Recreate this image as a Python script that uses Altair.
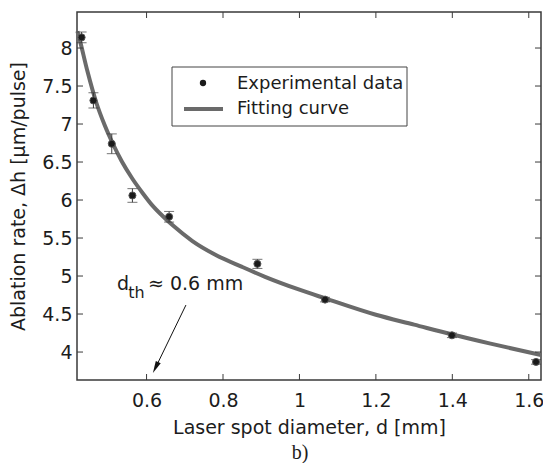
import altair as alt
import pandas as pd

# ---- data ----
d_exp = [0.430, 0.461, 0.509, 0.563, 0.659, 0.890, 1.067, 1.399, 1.619]
rate_exp = [8.14, 7.31, 6.74, 6.06, 5.78, 5.16, 4.69, 4.22, 3.87]
err_exp = [0.07, 0.10, 0.13, 0.09, 0.07, 0.06, 0.03, 0.03, 0.03]

d_fit = [0.419, 0.424, 0.445, 0.468, 0.49, 0.511, 0.535, 0.563, 0.59, 0.615,
         0.64, 0.67, 0.72, 0.78, 0.85, 0.91, 1.0, 1.065, 1.2, 1.3, 1.4, 1.5, 1.632]
rate_fit = [8.22, 8.13, 7.70, 7.29, 6.99, 6.75, 6.51, 6.28, 6.09, 5.93,
            5.80, 5.66, 5.46, 5.28, 5.12, 4.99, 4.82, 4.71, 4.49, 4.36, 4.23, 4.11, 3.96]

x_ticks = [0.6, 0.8, 1.0, 1.2, 1.4, 1.6]
y_ticks = [4, 4.5, 5, 5.5, 6, 6.5, 7, 7.5, 8]
x_domain = [0.418, 1.632]
y_domain = [3.632, 8.474]

legend_labels = ["Experimental data", "Fitting curve"]
x_title = "Laser spot diameter, d [mm]"
y_title = "Ablation rate, Δh [μm/pulse]"
caption = "b)"

# annotation: d_th ≈ 0.6 mm with arrow
ann_d = {"x": 0.5226, "y": 4.816, "t": "d"}
ann_sub = {"x": 0.552, "y": 4.71, "t": "th"}
ann_rest = {"x": 0.6037, "y": 4.816, "t": "≈ 0.6 mm"}
arrow_start = (0.703, 4.618)
arrow_head = (0.6236, 3.795)

W, H = 464, 368
FONT = "DejaVu Sans"
TXT = "#1c1c1c"

pts = pd.DataFrame({"d": d_exp, "rate": rate_exp, "err": err_exp})
pts["lo"] = pts["rate"] - pts["err"]
pts["hi"] = pts["rate"] + pts["err"]
fit = pd.DataFrame({"d": d_fit, "rate": rate_fit})

xs = alt.Scale(domain=x_domain, nice=False, zero=False)
ys = alt.Scale(domain=y_domain, nice=False, zero=False)

x_axis = alt.Axis(values=x_ticks, format="~f", grid=False, domain=False, ticks=False,
                  tickSize=0, labelFont=FONT, labelFontSize=19, labelColor=TXT,
                  labelPadding=11, labelFlush=False, labelOverlap=False,
                  title=x_title, titleFont=FONT, titleFontSize=19,
                  titleFontWeight="normal", titleColor=TXT, titlePadding=8)
y_axis = alt.Axis(values=y_ticks, format="~f", grid=False, domain=False, ticks=False,
                  tickSize=0, labelFont=FONT, labelFontSize=19, labelColor=TXT,
                  labelPadding=5, labelFlush=False, labelOverlap=False,
                  title=y_title, titleFont=FONT, titleFontSize=19,
                  titleFontWeight="normal", titleColor=TXT, titlePadding=13)

curve = alt.Chart(fit).mark_line(color="#6a6a6a", strokeWidth=4, interpolate="monotone").encode(
    x=alt.X("d:Q", scale=xs, axis=x_axis),
    y=alt.Y("rate:Q", scale=ys, axis=y_axis),
)

bars = alt.Chart(pts).mark_rule(color="#3a3a3a", strokeWidth=1).encode(
    x=alt.X("d:Q", scale=xs), y=alt.Y("lo:Q", scale=ys), y2="hi:Q")
cap_lo = alt.Chart(pts).mark_tick(orient="horizontal", size=10, thickness=1, color="#3a3a3a").encode(
    x=alt.X("d:Q", scale=xs), y=alt.Y("lo:Q", scale=ys))
cap_hi = alt.Chart(pts).mark_tick(orient="horizontal", size=10, thickness=1, color="#3a3a3a").encode(
    x=alt.X("d:Q", scale=xs), y=alt.Y("hi:Q", scale=ys))
dots = alt.Chart(pts).mark_point(filled=True, size=50, color="#1a1a1a", opacity=1,
                                 stroke="#555555", strokeWidth=1).encode(
    x=alt.X("d:Q", scale=xs), y=alt.Y("rate:Q", scale=ys))

# inward ticks on all four sides
xt = pd.DataFrame({"v": x_ticks})
yt = pd.DataFrame({"v": y_ticks})
tick_col = "#3a3a3a"
xt_bot = alt.Chart(xt).mark_rule(color=tick_col, strokeWidth=1).encode(
    x=alt.X("v:Q", scale=xs), y=alt.value(H), y2=alt.value(H - 6))
xt_top = alt.Chart(xt).mark_rule(color=tick_col, strokeWidth=1).encode(
    x=alt.X("v:Q", scale=xs), y=alt.value(0), y2=alt.value(6))
yt_left = alt.Chart(yt).mark_rule(color=tick_col, strokeWidth=1).encode(
    y=alt.Y("v:Q", scale=ys), x=alt.value(0), x2=alt.value(6))
yt_right = alt.Chart(yt).mark_rule(color=tick_col, strokeWidth=1).encode(
    y=alt.Y("v:Q", scale=ys), x=alt.value(W), x2=alt.value(W - 6))

# legend box
one = pd.DataFrame({"a": [0]})
leg_box = alt.Chart(one).mark_rect(fill="white", stroke="#444444", strokeWidth=1).encode(
    x=alt.value(95), x2=alt.value(330), y=alt.value(55), y2=alt.value(114))
leg_dot = alt.Chart(one).mark_point(filled=True, size=40, color="#1a1a1a", opacity=1).encode(
    x=alt.value(126), y=alt.value(71))
leg_line = alt.Chart(one).mark_rule(color="#6a6a6a", strokeWidth=4).encode(
    x=alt.value(107), x2=alt.value(146), y=alt.value(97))
leg_txt = alt.Chart(pd.DataFrame({"t": legend_labels, "yy": [72, 97]})).mark_text(
    align="left", baseline="middle", font=FONT, fontSize=18, color=TXT).encode(
    text="t:N", x=alt.value(160), y=alt.Y("yy:Q", scale=None))

# annotation
ann_df = pd.DataFrame([ann_d, ann_rest])
ann_main = alt.Chart(ann_df).mark_text(align="left", baseline="alphabetic", font=FONT,
                                       fontSize=19, color=TXT).encode(
    x=alt.X("x:Q", scale=xs), y=alt.Y("y:Q", scale=ys), text="t:N")
ann_s = alt.Chart(pd.DataFrame([ann_sub])).mark_text(align="left", baseline="alphabetic", font=FONT,
                                                     fontSize=16, color=TXT).encode(
    x=alt.X("x:Q", scale=xs), y=alt.Y("y:Q", scale=ys), text="t:N")
arr_df = pd.DataFrame({"x": [arrow_start[0]], "y": [arrow_start[1]],
                       "x2": [arrow_head[0]], "y2": [arrow_head[1]]})
arr_line = alt.Chart(arr_df).mark_rule(color="#111111", strokeWidth=1).encode(
    x=alt.X("x:Q", scale=xs), y=alt.Y("y:Q", scale=ys), x2="x2:Q", y2="y2:Q")
arr_head = alt.Chart(arr_df).mark_point(shape="M0,-1L0.45,1L-0.45,1Z", filled=True, size=150,
                                        angle=206, color="#111111", opacity=1).encode(
    x=alt.X("x2:Q", scale=xs), y=alt.Y("y2:Q", scale=ys))

cap = alt.Chart(one).mark_text(align="center", baseline="middle", font="Liberation Serif",
                               fontSize=20, color=TXT).encode(
    x=alt.value(223), y=alt.value(441), text=alt.value(caption))

chart = alt.layer(
    curve, bars, cap_lo, cap_hi, dots,
    xt_bot, xt_top, yt_left, yt_right,
    leg_box, leg_dot, leg_line, leg_txt,
    ann_main, ann_s, arr_line, arr_head, cap,
).properties(
    width=W, height=H,
    autosize="none",
    padding={"left": 77, "top": 12, "right": 2, "bottom": 83},
    background="white",
).configure_view(stroke="#3a3a3a", strokeWidth=1.5)

chart.save("out.html", embed_options={"renderer": "svg", "actions": False})
